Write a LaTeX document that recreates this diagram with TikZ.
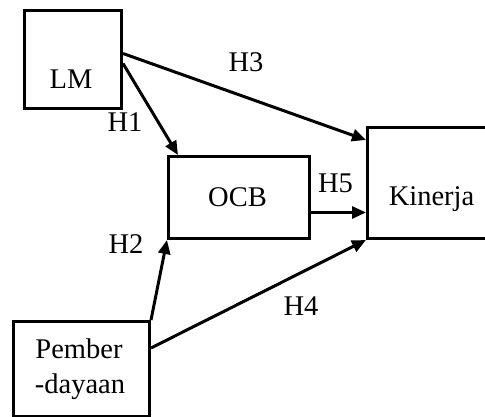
\documentclass[tikz,border=0pt]{standalone}
\usepackage{fontspec}
\setmainfont{Liberation Serif}
\usetikzlibrary{arrows.meta,calc}
\begin{document}
\begin{tikzpicture}[x=1pt,y=-1pt,
  box/.style={draw,line width=3pt,rectangle,inner sep=0pt,anchor=north west},
  txt/.style={anchor=base,inner sep=0pt,font=\fontsize{28.5}{34}\selectfont},
  arr/.style={line width=3pt,-{Triangle[length=14pt,width=12pt]}}]
\useasboundingbox (0,0) rectangle (485,417);
\begin{scope}
\clip (0,0) rectangle (485,417);
\node[box,minimum width=97pt,minimum height=98pt] (lm) at (23,9) {};
\node[box,minimum width=141pt,minimum height=82pt] (ocb) at (167,155) {};
\node[box,minimum width=130pt,minimum height=111pt] (kin) at (366,126) {};
\node[box,minimum width=136pt,minimum height=95pt] (pem) at (12,320) {};
\end{scope}
\node[txt] (tlm) at (71,89) {LM};
\node[txt] (tocb) at (237.5,207) {OCB};
\node[txt] (tkin) at (431.5,206) {Kinerja};
\node[txt] (tpem1) at (79,358) {Pember};
\node[txt] (tpem2) at (80,393) {-dayaan};
\draw[arr] ([yshift=-4pt]lm.east) -- ([xshift=11pt]ocb.north west);
\draw[arr] ([yshift=6pt]lm.east) -- ([yshift=-14pt]kin.north west);
\draw[arr] ([yshift=-15pt]ocb.east) -- ([yshift=-15pt]ocb.east -| kin.west);
\draw[arr] (pem.north east) -- (ocb.south west);
\draw[arr] ([yshift=21pt]pem.east) -- (kin.south west);
\node[txt] (h1) at (125,132) {H1};
\node[txt] (h2) at (126,253) {H2};
\node[txt] (h3) at (246,72) {H3};
\node[txt] (h4) at (301,315) {H4};
\node[txt] (h5) at (335.5,193) {H5};
\end{tikzpicture}
\end{document}
